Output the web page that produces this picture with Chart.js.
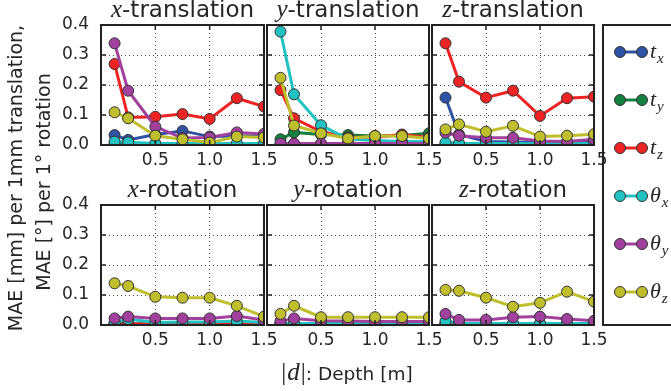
<!DOCTYPE html>
<html>
<head>
<meta charset="utf-8">
<script src="https://cdn.jsdelivr.net/npm/chart.js@4.4.1/dist/chart.umd.min.js"></script>
<style>
  html, body { margin: 0; padding: 0; background: #fff; }
  #fig { position: relative; width: 671px; height: 391px; overflow: hidden; background: #fff; }
  #fig canvas { position: absolute; left: 0; top: 0; }
</style>
</head>
<body>
<div id="fig">
  <canvas id="p0" width="671" height="391"></canvas>
  <canvas id="p1" width="671" height="391"></canvas>
  <canvas id="p2" width="671" height="391"></canvas>
  <canvas id="p3" width="671" height="391"></canvas>
  <canvas id="p4" width="671" height="391"></canvas>
  <canvas id="p5" width="671" height="391"></canvas>
</div>
<script>
"use strict";

// Data.
const depths = [0.125, 0.25, 0.5, 0.75, 1.0, 1.25, 1.5];
const yTicks = [0, 0.1, 0.2, 0.3, 0.4];
const xTicks = [0.5, 1.0, 1.5];
const seriesMain = ['t', 't', 't', 'θ', 'θ', 'θ'];
const seriesSub = ['x', 'y', 'z', 'x', 'y', 'z'];
const panelAxis = ['x', 'y', 'z', 'x', 'y', 'z'];
const panelKind = ['-translation', '-translation', '-translation', '-rotation', '-rotation', '-rotation'];

// one row per series: t_x, t_y, t_z, θ_x, θ_y, θ_z
const xTranslation = [
    [0.033, 0.017, 0.035, 0.047, 0.028, 0.030, 0.030],
    [0.004, 0.004, 0.003, 0.003, 0.003, 0.003, 0.003],
    [0.270, 0.092, 0.094, 0.103, 0.087, 0.156, 0.128],
    [0.011, 0.009, 0.005, 0.005, 0.004, 0.005, 0.005],
    [0.339, 0.181, 0.061, 0.023, 0.025, 0.042, 0.037],
    [0.109, 0.089, 0.031, 0.019, 0.008, 0.028, 0.025]
];
const yTranslation = [
    [0.003, 0.003, 0.003, 0.003, 0.004, 0.004, 0.004],
    [0.019, 0.042, 0.035, 0.033, 0.030, 0.032, 0.039],
    [0.183, 0.089, 0.045, 0.025, 0.027, 0.035, 0.025],
    [0.378, 0.169, 0.066, 0.020, 0.015, 0.012, 0.012],
    [0.005, 0.005, 0.005, 0.005, 0.005, 0.005, 0.005],
    [0.224, 0.065, 0.039, 0.022, 0.030, 0.030, 0.022]
];
const zTranslation = [
    [0.158, 0.035, 0.012, 0.010, 0.008, 0.008, 0.008],
    [0.003, 0.003, 0.003, 0.003, 0.003, 0.003, 0.003],
    [0.339, 0.211, 0.158, 0.181, 0.097, 0.156, 0.161],
    [0.008, 0.006, 0.005, 0.005, 0.004, 0.004, 0.005],
    [0.041, 0.031, 0.024, 0.024, 0.013, 0.012, 0.019],
    [0.052, 0.069, 0.044, 0.064, 0.028, 0.031, 0.036]
];
const xRotation = [
    [0.003, 0.003, 0.003, 0.003, 0.003, 0.003, 0.003],
    [0.003, 0.003, 0.003, 0.003, 0.003, 0.003, 0.003],
    [0.003, 0.003, 0.003, 0.003, 0.003, 0.003, 0.003],
    [0.008, 0.020, 0.008, 0.010, 0.010, 0.013, 0.008],
    [0.022, 0.028, 0.022, 0.022, 0.022, 0.030, 0.017],
    [0.139, 0.130, 0.094, 0.091, 0.091, 0.064, 0.028]
];
const yRotation = [
    [0.003, 0.003, 0.003, 0.003, 0.003, 0.003, 0.003],
    [0.003, 0.003, 0.003, 0.003, 0.003, 0.003, 0.003],
    [0.003, 0.003, 0.003, 0.003, 0.003, 0.003, 0.003],
    [0.005, 0.005, 0.005, 0.005, 0.005, 0.005, 0.005],
    [0.013, 0.022, 0.014, 0.013, 0.012, 0.012, 0.012],
    [0.037, 0.064, 0.026, 0.026, 0.026, 0.026, 0.026]
];
const zRotation = [
    [0.003, 0.003, 0.003, 0.003, 0.003, 0.003, 0.003],
    [0.003, 0.003, 0.003, 0.003, 0.003, 0.003, 0.003],
    [0.003, 0.003, 0.003, 0.003, 0.003, 0.003, 0.003],
    [0.013, 0.006, 0.005, 0.005, 0.005, 0.005, 0.005],
    [0.037, 0.017, 0.017, 0.026, 0.028, 0.020, 0.014],
    [0.117, 0.114, 0.091, 0.061, 0.074, 0.111, 0.078]
];
const panels = [xTranslation, yTranslation, zTranslation, xRotation, yRotation, zRotation];

// Styles
const colors = ['#2f52a4', '#148040', '#ee2424', '#22c2c2', '#a2409e', '#bfbf2e'];
const textColor = '#262626';
const sans = '"DejaVu Sans", sans-serif';
const serif = '"Liberation Serif", "DejaVu Serif", serif';

// Panel frames (pixels in the 671x391 figure)
const colLeft = [101, 267, 432];
const colRight = [264, 429, 594];
const rowTop = [25, 205];
const rowBottom = [145, 325];
const yAxisW = 45;
const xAxisH = 30;

// Math-style text: italic serif letter + normal text
function drawMixed(ctx, parts, cx, y) {
    let total = 0;
    parts.forEach(p => { ctx.font = p.font; p.w = ctx.measureText(p.text).width + (p.gap || 0); total += p.w; });
    let x = cx - total / 2;
    ctx.textAlign = 'left';
    parts.forEach(p => {
        ctx.font = p.font;
        ctx.fillText(p.text, x, y);
        x += p.w;
    });
}

// Frame, inward ticks and title of each panel
const panelPlugin = {
    id: 'panelDeco',
    afterDraw(chart, args, opts) {
        const {ctx, chartArea: a, scales} = chart;
        ctx.save();
        ctx.strokeStyle = '#222';
        ctx.lineWidth = 1.5;
        ctx.beginPath();
        yTicks.slice(1, -1).forEach(v => {
            const y = scales.y.getPixelForValue(v);
            ctx.moveTo(a.left, y); ctx.lineTo(a.left + 5, y);
            ctx.moveTo(a.right, y); ctx.lineTo(a.right - 5, y);
        });
        xTicks.slice(0, -1).forEach(v => {
            const x = scales.x.getPixelForValue(v);
            ctx.moveTo(x, a.top); ctx.lineTo(x, a.top + 5);
            ctx.moveTo(x, a.bottom); ctx.lineTo(x, a.bottom - 5);
        });
        ctx.stroke();
        ctx.lineWidth = 2;
        ctx.strokeRect(a.left, a.top, a.right - a.left, a.bottom - a.top);

        ctx.fillStyle = textColor;
        ctx.textBaseline = 'alphabetic';
        drawMixed(ctx, [
            {text: opts.axis, font: 'italic 25px ' + serif},
            {text: opts.kind, font: '23px ' + sans}
        ], (a.left + a.right) / 2, a.top - 8);
        ctx.restore();
    }
};

// Figure-level texts and legend, drawn once
const figurePlugin = {
    id: 'figureDeco',
    afterDraw(chart) {
        const ctx = chart.ctx;
        ctx.save();
        ctx.fillStyle = textColor;
        ctx.textBaseline = 'alphabetic';

        // y label (two lines)
        ctx.font = '19px ' + sans;
        ctx.textAlign = 'center';
        [['MAE [mm] per 1mm translation,', 22, 178], ['MAE [°] per 1° rotation', 50, 182]].forEach(([txt, x, y]) => {
            ctx.save();
            ctx.translate(x, y);
            ctx.rotate(-Math.PI / 2);
            ctx.fillText(txt, 0, 0);
            ctx.restore();
        });

        // x label
        drawMixed(ctx, [
            {text: '|', font: '25px ' + serif, gap: 1},
            {text: 'd', font: 'italic 25px ' + serif, gap: 1},
            {text: '|', font: '25px ' + serif},
            {text: ': Depth [m]', font: '18.5px ' + sans}
        ], 347, 380);

        // legend box
        ctx.strokeStyle = '#222';
        ctx.lineWidth = 2;
        ctx.strokeRect(603, 25, 100, 300);
        seriesMain.forEach((m, i) => {
            const y = 52 + i * 48;
            ctx.strokeStyle = colors[i];
            ctx.lineWidth = 3;
            ctx.beginPath();
            ctx.moveTo(620, y); ctx.lineTo(642, y);
            ctx.stroke();
            [620, 642].forEach(x => {
                ctx.beginPath();
                ctx.arc(x, y, 5.5, 0, Math.PI * 2);
                ctx.fillStyle = colors[i];
                ctx.fill();
                ctx.strokeStyle = '#333';
                ctx.lineWidth = 1;
                ctx.stroke();
            });
            ctx.fillStyle = textColor;
            ctx.textAlign = 'left';
            ctx.font = 'italic 22px ' + serif;
            ctx.fillText(m, 650, y + 6);
            const w = ctx.measureText(m).width;
            ctx.font = 'italic 15px ' + serif;
            ctx.fillText(seriesSub[i], 650 + w + 1, y + 11);
        });
        ctx.restore();
    }
};

function makeDatasets(series) {
    return series.map((vals, i) => ({
        label: seriesMain[i] + '_' + seriesSub[i],
        data: depths.map((d, k) => ({x: d, y: vals[k]})),
        borderColor: colors[i],
        backgroundColor: colors[i],
        borderWidth: 3,
        pointRadius: 5.5,
        pointBorderColor: '#333',
        pointBorderWidth: 1,
        pointBackgroundColor: colors[i],
        order: series.length - i,
        clip: 0,
        tension: 0
    }));
}

panels.forEach((series, p) => {
    const col = p % 3;
    const row = Math.floor(p / 3);
    const plugins = [panelPlugin];
    if (p === panels.length - 1) plugins.push(figurePlugin);

    new Chart(document.getElementById('p' + p), {
        type: 'line',
        data: { datasets: makeDatasets(series) },
        plugins: plugins,
        options: {
            responsive: false,
            animation: false,
            events: [],
            layout: {
                autoPadding: false,
                padding: {
                    left: colLeft[col] - yAxisW,
                    right: 671 - colRight[col],
                    top: rowTop[row],
                    bottom: 391 - rowBottom[row] - xAxisH
                }
            },
            plugins: {
                legend: { display: false },
                tooltip: { enabled: false },
                panelDeco: { axis: panelAxis[p], kind: panelKind[p] }
            },
            scales: {
                x: {
                    type: 'linear',
                    min: 0,
                    max: 1.5,
                    afterFit: s => { s.height = xAxisH; },
                    afterBuildTicks: s => { s.ticks = [0].concat(xTicks).map(v => ({value: v})); },
                    ticks: {
                        padding: 5,
                        maxRotation: 0,
                        autoSkip: false,
                        color: textColor,
                        font: { family: sans, size: 17 },
                        callback: v => v === 0 ? '' : v.toFixed(1)
                    },
                    grid: { color: '#444', lineWidth: 1, drawTicks: false },
                    border: { display: false, dash: [1, 3] }
                },
                y: {
                    type: 'linear',
                    min: 0,
                    max: 0.4,
                    afterFit: s => { s.width = yAxisW; },
                    afterBuildTicks: s => { s.ticks = yTicks.map(v => ({value: v})); },
                    ticks: {
                        display: col === 0,
                        padding: 12,
                        color: textColor,
                        font: { family: sans, size: 17 },
                        callback: v => v.toFixed(1)
                    },
                    grid: { color: '#444', lineWidth: 1, drawTicks: false },
                    border: { display: false, dash: [1, 3] }
                }
            }
        }
    });
});
</script>
</body>
</html>
